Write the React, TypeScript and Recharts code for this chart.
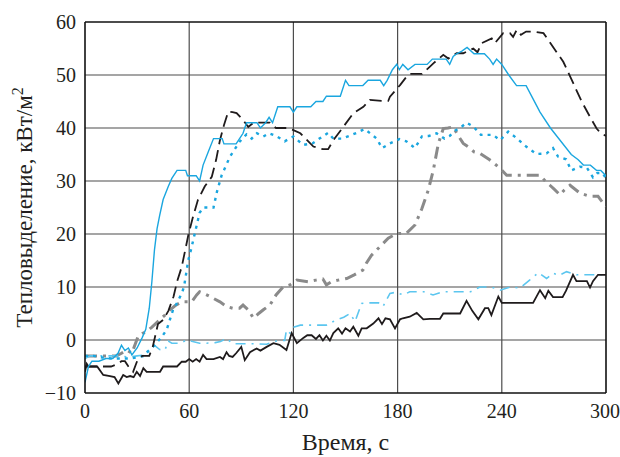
import React from "react";
import { LineChart, Line, XAxis, YAxis, CartesianGrid, ReferenceLine } from "recharts";

// Time ticks (s) and heat release ticks (kW/m2)
const xTicks = [0, 60, 120, 180, 240, 300];
const yTicks = [-10, 0, 10, 20, 30, 40, 50, 60];

// [time, heat release] pairs
const cyanSolid: number[][] = [
  [0, -8], [2, -5], [4, -4], [8, -4], [12, -3.5], [16, -3.5], [19, -2.5], [21, -1], [23, -2], [25, -1.5],
  [27, -2.8], [30, -1.5], [33, 0.5], [35, 2], [37, 6], [38.5, 11], [40, 17], [41.5, 21], [43, 23.5], [45, 26.5],
  [48, 29], [50, 30.5], [53, 32], [58, 32], [59, 31], [64, 31], [66, 30], [68, 33], [71, 35.5], [74, 38],
  [79, 38], [80, 37], [87, 37], [89, 38], [91, 39], [93, 41], [99, 41], [101, 40], [104, 41], [106, 42],
  [108, 41], [111, 44], [118, 44], [120, 43], [122, 44], [130, 44], [133, 45], [137, 45], [139, 46], [147, 46],
  [150, 49], [152, 48], [160, 48], [163, 49], [170, 49], [172, 48], [174, 49], [177, 51], [179.5, 52], [181, 51],
  [183, 52], [186, 51], [190, 52], [197, 52], [200, 53], [208, 53], [210, 52], [212, 53.5], [214, 54], [217, 54.5],
  [220, 55.2], [224, 54], [230, 54], [233, 53], [235, 52], [237, 53], [240, 52], [244, 50], [248.5, 48], [254, 48],
  [258, 45.5], [262, 43], [268, 40], [274, 37.5], [280, 35], [284, 34], [287, 33], [291, 33], [294.5, 32], [297, 32],
  [300, 31],
];

const blackDashed: number[][] = [
  [0, -5], [10, -5], [15, -5], [19, -4.5], [21, -4], [23, -4], [25, -5], [27.7, -6], [30, -4], [33, -3],
  [37, -3], [39, -1.3], [42, 3], [45, 3.8], [48, 5.5], [51, 8.2], [53, 11], [55.7, 13.8], [59.5, 19.8], [62, 23],
  [65, 26.4], [69, 29], [73, 30.8], [75.5, 34], [77.7, 37.7], [80, 40.5], [82.5, 43.1], [85, 43], [87.3, 42.8], [91, 41.5],
  [94, 40.2], [97, 41], [106.5, 41], [110, 40], [116, 40], [120, 39.6], [124, 39], [131.5, 36.5], [137, 36], [140, 36],
  [143, 37.7], [148.7, 40.2], [154.5, 42.8], [160.3, 44], [164, 45.3], [170.8, 45.1], [174.6, 45.1], [175.6, 45.9], [181.4, 48.1], [185.2, 49.7],
  [187, 50.2], [194, 50.2], [197.7, 51.3], [200.6, 52.2], [206.3, 53.8], [209.2, 53.1], [214, 54.1], [217.8, 54.1], [223.6, 55], [226, 54.3],
  [228.4, 56], [234.2, 56.9], [236, 56], [240.8, 57.9], [244.7, 57.9], [246.5, 57.2], [248.6, 58.5], [251, 57.6], [254, 58.2], [258, 58.2],
  [264, 57.9], [275.4, 52.5], [281.2, 48.4], [286, 45], [290.8, 42.1], [294.6, 39.9], [297, 39], [300, 38.5],
];

const cyanDotted: number[][] = [
  [0, -3], [5, -3], [10, -3.3], [15, -3.5], [20, -3.5], [25, -3.5], [30, -3.3], [34, -3], [36, -2.2], [40, -1],
  [44, 0.5], [47, 1.9], [50.7, 5.7], [53, 7], [55.7, 8.8], [57, 10], [59.5, 15.1], [61, 17], [63.3, 20.2], [66, 24],
  [68, 25], [74, 25], [76, 28], [78.7, 31.1], [83.5, 34.6], [89, 37.4], [93, 38.8], [96, 38], [99, 39], [102.7, 38.4],
  [106, 39], [110, 38.5], [115, 37.5], [120, 38.4], [125.6, 36.8], [131, 37.1], [135, 38], [140, 39.1], [143, 38], [147.8, 38],
  [152, 38.5], [156.5, 39.1], [161, 39.8], [165, 38.8], [168, 38], [171, 36.2], [175.6, 37.1], [181, 37.9], [185, 37.5], [190, 36.2],
  [194, 38.4], [198, 38.5], [202.5, 39], [207, 38], [210, 38.5], [213, 39.5], [216, 40], [219.7, 41], [223.5, 40.3], [228, 38.7],
  [235, 38.7], [239, 37.7], [243.7, 39.3], [248.5, 38.1], [254, 36.5], [260, 35.1], [265.8, 35.2], [269.5, 36.2], [272.4, 34.6], [277, 34.1],
  [280, 32], [285, 32.7], [289, 32.5], [292.5, 30.7], [295, 31.5], [298, 31.5], [300, 30.5],
];

const grayDashDot: number[][] = [
  [0, -3], [5, -3], [10, -3], [14, -3], [18, -3], [21, -2.5], [24, -1.9], [27, -2.5], [30.5, 0.6], [33, 1.2],
  [35.5, 1.6], [38.4, 2.4], [41, 3.2], [44, 4.1], [46, 4.7], [49, 5.7], [52, 6.5], [55.7, 7.2], [61.4, 7.2], [64.3, 8.5],
  [66, 9.1], [69, 8.7], [72, 8.2], [77.7, 7.2], [81.6, 6.3], [85, 6], [89, 6], [91, 6.6], [94, 5.7], [97, 4.1],
  [100, 5], [102.7, 5.7], [106.5, 6.6], [110, 8.5], [114, 10], [118, 10.4], [122, 11.3], [128.5, 11], [133, 11.3], [137, 11.5],
  [139, 10.4], [142, 11], [145.8, 11.3], [150.7, 11.6], [155, 12.3], [160, 13.2], [162, 14.5], [165, 16], [168, 17], [171, 18],
  [174.6, 19.2], [179.5, 20.1], [185, 20.1], [190, 21.7], [194, 24.8], [197.7, 28.3], [200.6, 32.1], [203.5, 37.1], [206.3, 39.9], [209, 40],
  [212, 40.2], [215, 38.5], [217.8, 37.1], [221.7, 36.2], [224, 35.5], [227.4, 35.2], [233, 34], [239, 32.4], [242.8, 31.1], [250, 31.1],
  [262, 31.1], [265, 30], [267.7, 29.2], [270, 28.5], [273.5, 27.4], [276, 28.3], [279.3, 29.2], [282, 28.5], [285, 27.7], [290.8, 27.1],
  [295.4, 27.1], [298, 26], [300, 25.2],
];

const lightBlueDashDot: number[][] = [
  [0, -3.5], [3, -3], [10, -3], [15, -3], [20, -3], [25, -3.2], [30, -3], [35, -2.8], [37, -2], [40, -1],
  [43, -1.8], [46, -1.9], [48, -0.2], [50, -0.6], [55, -0.6], [58.5, 0], [62, -0.3], [66, -0.6], [70, -0.6], [75, -0.5],
  [78, -0.3], [81.5, 0.3], [85, -0.7], [95, -0.7], [104.6, -0.8], [108.5, -0.3], [112, -0.1], [115, -0.1], [116, 1.9], [118, 1.3],
  [120, 2.4], [124, 2.8], [133, 2.8], [139, 2.8], [143, 3.5], [145.8, 3.9], [149, 4.3], [152.6, 5], [155.5, 3.5], [159.3, 6.9],
  [163, 7], [169, 7], [171.6, 6.3], [175.6, 8.8], [179, 9], [183.3, 8.5], [187, 9.1], [195, 9.1], [200.4, 8.5], [206, 9.1],
  [214, 9.1], [222, 9.1], [227.4, 10], [234, 10], [239, 9.4], [244.7, 10], [250.5, 9.8], [256, 11.3], [261, 12.7], [265.8, 11.6],
  [269.5, 12.6], [273, 12.2], [277.3, 12.9], [283, 12.3], [289, 12.3], [297, 12.3], [300, 12.3],
];

const blackSolid: number[][] = [
  [0, -6], [1, -4.5], [2, -5], [7, -5], [10.5, -6.6], [14.4, -6.8], [17, -7], [19.2, -8.2], [22, -6.6], [24, -7],
  [26, -6.8], [28, -7], [29.8, -6], [31.7, -6.8], [33.6, -5.3], [35.5, -6], [43.2, -6], [45, -5], [53, -5], [55.7, -4.1],
  [58, -4.1], [60, -3.6], [62, -4.1], [64, -3.6], [66, -4.1], [68, -2.8], [70, -3.6], [74, -3.6], [77.7, -3.2], [79.5, -3.6],
  [81.5, -2.3], [83, -3], [85, -3.2], [87, -2.5], [90, -1.3], [92, -3.8], [95, -2.3], [98.8, -1.6], [101, -2], [104.6, -1.3],
  [108.5, -0.6], [112, -0.9], [116, -1.9], [119, 1.3], [122, -0.6], [125.7, 0.4], [128, 0.9], [130.5, 0.9], [133, 0.2], [135, 0.9],
  [137, -0.1], [139, 0.8], [141, -0.1], [143, 1.3], [145.8, 2.2], [148, 1.2], [150, 2.2], [152.6, 1.6], [154.5, 2.5], [157.4, 0.8],
  [159.3, 2.2], [162.2, 2.2], [166, 3.1], [169, 4.1], [171, 3], [173, 4.1], [175.6, 3.9], [178.5, 2.2], [181.4, 3.9], [183, 4.1],
  [187, 4.4], [191, 5.1], [194.8, 3.9], [198.6, 4], [204.4, 4], [206.3, 5], [216, 5], [219.7, 7.4], [223, 5.5], [226.5, 3.9],
  [230.3, 6], [232.2, 6], [234, 4.7], [238, 8.2], [240, 7], [258, 7], [262, 9.4], [265, 7.9], [266.8, 9.3], [269.5, 8.1],
  [275, 8.1], [277, 9.3], [281, 12.3], [283, 11.1], [289, 11.1], [290.8, 9.9], [292.5, 11.1], [295.4, 12.3], [300, 12.3],
];

const toRows = (pairs: number[][]) => pairs.map(([t, v]) => ({ t, v }));

const FONT = "'Liberation Serif', 'Times New Roman', serif";
const TEXT = "#231f20";

const fmt = (v: number) => String(v).replace("-", "\u2212");

const XTitle = (props: any) => {
  const vb = props.viewBox || {};
  return (
    <text x={vb.x + vb.width / 2} y={vb.y + vb.height - 7} textAnchor="middle" fontFamily={FONT} fontSize={24} fill={TEXT}>
      Время, с
    </text>
  );
};

const YTitle = (props: any) => {
  const vb = props.viewBox || {};
  const cx = 32;
  const cy = vb.y + vb.height / 2;
  return (
    <text x={cx} y={cy} textAnchor="middle" transform={`rotate(-90, ${cx}, ${cy})`} fontFamily={FONT} fontSize={23} fill={TEXT}>
      <tspan>Тепловыделение, кВт/м</tspan>
      <tspan dy={-9} fontSize={16}>2</tspan>
    </text>
  );
};

export default function App() {
  return (
    <div style={{ position: "absolute", left: 0, top: 0, width: 620, height: 457, background: "#fff" }}>
      <LineChart width={620} height={457} margin={{ top: 22, right: 14, bottom: 0, left: 0 }}>
        <CartesianGrid stroke="#4d4d4d" strokeWidth={1.2} verticalValues={[60, 120, 180, 240]} horizontalValues={[0, 10, 20, 30, 40, 50]} />
        <XAxis
          dataKey="t"
          type="number"
          domain={[0, 300]}
          ticks={xTicks}
          height={64}
          tickLine={false}
          tickMargin={5}
          axisLine={{ stroke: "#111", strokeWidth: 1.6 }}
          tick={{ fontFamily: FONT, fontSize: 20, fill: TEXT }}
          tickFormatter={fmt}
          allowDataOverflow
          label={{ content: XTitle }}
        />
        <YAxis
          type="number"
          domain={[-10, 60]}
          ticks={yTicks}
          width={85}
          tickLine={false}
          tickMargin={3}
          axisLine={{ stroke: "#111", strokeWidth: 1.6 }}
          tick={{ fontFamily: FONT, fontSize: 20, fill: TEXT }}
          tickFormatter={fmt}
          allowDataOverflow
          label={{ content: YTitle }}
        />
        <ReferenceLine y={60} stroke="#111" strokeWidth={1.6} />
        <ReferenceLine x={300} stroke="#111" strokeWidth={1.6} />
        <Line data={toRows(grayDashDot)} dataKey="v" type="linear" stroke="#8a8a8a" strokeWidth={3} strokeDasharray="12 6 3 6" dot={false} isAnimationActive={false} />
        <Line data={toRows(lightBlueDashDot)} dataKey="v" type="linear" stroke="#5cc6ef" strokeWidth={1.6} strokeDasharray="10 6 2 6" dot={false} isAnimationActive={false} />
        <Line data={toRows(cyanDotted)} dataKey="v" type="linear" stroke="#1aa6df" strokeWidth={2.4} strokeDasharray="3 5" dot={false} isAnimationActive={false} />
        <Line data={toRows(blackSolid)} dataKey="v" type="linear" stroke="#1f1b1c" strokeWidth={1.8} dot={false} isAnimationActive={false} />
        <Line data={toRows(blackDashed)} dataKey="v" type="linear" stroke="#1f1b1c" strokeWidth={1.8} strokeDasharray="12 6" dot={false} isAnimationActive={false} />
        <Line data={toRows(cyanSolid)} dataKey="v" type="linear" stroke="#1aa6df" strokeWidth={1.4} dot={false} isAnimationActive={false} />
      </LineChart>
    </div>
  );
}
